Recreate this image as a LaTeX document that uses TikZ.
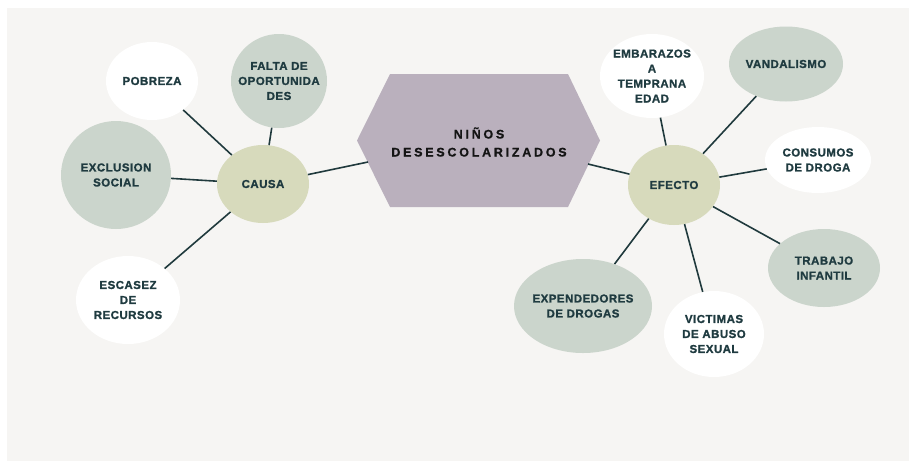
\documentclass[tikz,border=0pt]{standalone}
\usepackage{fontspec}
\setmainfont{Liberation Sans}
\newfontfamily\nodefont[LetterSpace=4,FakeBold=1.2]{Liberation Sans Bold}
\newfontfamily\titlefont[LetterSpace=22,FakeBold=0.8]{Liberation Sans Bold}
\usetikzlibrary{shapes.geometric}
\definecolor{bgc}{HTML}{F6F5F3}
\definecolor{sage}{HTML}{CBD5CC}
\definecolor{khaki}{HTML}{D7DABC}
\definecolor{hexc}{HTML}{BAB0BD}
\definecolor{txtc}{HTML}{1F3B40}
\definecolor{linec}{HTML}{203A3D}
\begin{document}
\begin{tikzpicture}[x=1pt,y=-1pt,
  bubble/.style={ellipse, inner sep=-20pt, align=center,
    font=\nodefont\fontsize{11.5}{15}\selectfont, text=txtc},
  wbub/.style={bubble, fill=white},
  gbub/.style={bubble, fill=sage},
  kbub/.style={bubble, fill=khaki},
  link/.style={draw=linec, line width=1.6pt},
  titlebox/.style={align=center, text=black!92,
    font=\titlefont\fontsize{12.5}{18}\selectfont}]
\useasboundingbox (0,0) rectangle (909,467);
\fill[white] (0,0) rectangle (909,467);
\fill[bgc] (7,8) rectangle (909,461);
% central hexagon
\fill[hexc] (357,140.5) -- (390,74) -- (568,74) -- (600,140.5) -- (568,207) -- (390,207) -- cycle;
\node[titlebox] (hex) at (479,142) {NIÑOS\\DESESCOLARIZADOS};
\coordinate (hexL) at (368,162);
\coordinate (hexR) at (588,164);
% cause side
\node[kbub, minimum width=92pt, minimum height=78pt] (causa) at (263,184) {CAUSA};
\node[wbub, minimum width=92pt, minimum height=78pt] (pob) at (152,81) {POBREZA};
\node[gbub, minimum width=96pt, minimum height=94pt] (falta) at (279,81) {FALTA DE\\OPORTUNIDA\\DES};
\node[gbub, minimum width=110pt, minimum height=108pt] (excl) at (116,175) {EXCLUSION\\SOCIAL};
\node[wbub, minimum width=104pt, minimum height=88pt] (esc) at (128,300) {ESCASEZ\\DE\\RECURSOS};
% effect side
\node[kbub, minimum width=92pt, minimum height=80pt] (efecto) at (674,185) {EFECTO};
\node[wbub, minimum width=104pt, minimum height=84pt] (emb) at (652,76) {EMBARAZOS\\A\\TEMPRANA\\EDAD};
\node[gbub, minimum width=114pt, minimum height=75pt] (vand) at (786,64) {VANDALISMO};
\node[wbub, minimum width=106pt, minimum height=66pt] (cons) at (818,160) {CONSUMOS\\DE DROGA};
\node[gbub, minimum width=112pt, minimum height=78pt] (trab) at (824,268) {TRABAJO\\INFANTIL};
\node[gbub, minimum width=138pt, minimum height=94pt] (exp) at (583,306) {EXPENDEDORES\\DE DROGAS};
\node[wbub, minimum width=100pt, minimum height=86pt] (vict) at (714,334) {VICTIMAS\\DE ABUSO\\SEXUAL};
% connectors
\draw[link] (causa) -- (hexL);
\draw[link] (pob) -- (causa);
\draw[link] (falta) -- (causa);
\draw[link] (excl) -- (causa);
\draw[link] (esc) -- (causa);
\draw[link] (efecto) -- (hexR);
\draw[link] (emb) -- (efecto);
\draw[link] (vand) -- (efecto);
\draw[link] (cons) -- (efecto);
\draw[link] (trab) -- (efecto);
\draw[link] (exp) -- (efecto);
\draw[link] (vict) -- (efecto);
\end{tikzpicture}
\end{document}
